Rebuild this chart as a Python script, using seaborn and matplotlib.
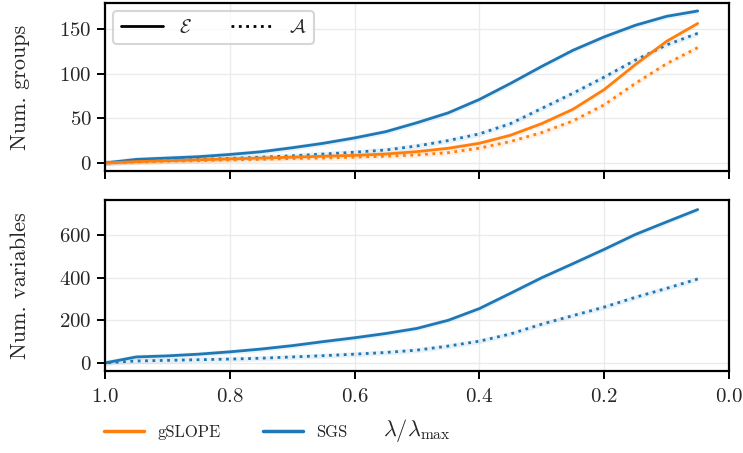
import numpy as np
import pandas as pd
import matplotlib
matplotlib.use("Agg")
import matplotlib.pyplot as plt
from matplotlib.lines import Line2D
import seaborn as sns

# lambda / lambda_max path
lambdas = [1.0, 0.95, 0.9, 0.85, 0.8, 0.75, 0.7, 0.65, 0.6, 0.55,
           0.5, 0.45, 0.4, 0.35, 0.3, 0.25, 0.2, 0.15, 0.1, 0.05]

# number of groups (E = estimated, A = active)
sgs_groups_E = [0, 4, 5.5, 7, 9.5, 12.5, 17, 22, 28, 35, 45, 56, 71, 89, 108, 126, 141, 154, 164, 170]
sgs_groups_A = [0, 2, 3, 4, 5, 6.5, 8, 10, 12, 14.5, 19, 25, 32.5, 44, 61, 78, 96, 115, 132, 145]
gslope_groups_E = [0, 1.5, 2.5, 3.5, 4.5, 5.5, 6.5, 7.5, 8.5, 10, 12.7, 16.4, 22, 31, 44, 60, 82, 110, 136, 156]
gslope_groups_A = [0, 1, 2, 2.5, 3.5, 4, 5, 5.5, 6.5, 7.5, 9, 11.5, 16.5, 24, 34, 47, 65, 89, 111, 129]

# number of variables
sgs_vars_E = [0, 28, 33, 41, 52, 65, 81, 100, 118, 138, 162, 200, 255, 327, 400, 466, 533, 603, 662, 720]
sgs_vars_A = [0, 9, 12, 15, 18, 22, 28, 34, 41, 49, 60, 79, 102, 136, 182, 222, 262, 308, 350, 394]

band_groups = 3
band_vars = 12

sns.set_style("whitegrid")
plt.rcParams['font.family'] = ['cmr10', 'DejaVu Serif']
plt.rcParams['mathtext.fontset'] = 'cm'
plt.rcParams['axes.formatter.use_mathtext'] = True

blue = '#1f77b4'
orange = '#ff7f0e'

fig = plt.figure(figsize=(7.43, 4.53), dpi=100)
ax1 = fig.add_axes([0.1413, 0.6225, 0.8397, 0.371])
ax2 = fig.add_axes([0.1413, 0.181, 0.8397, 0.3775], sharex=ax1)


def draw(ax, y, color, ls, band):
    df = pd.DataFrame({'lam': lambdas, 'val': y})
    sns.lineplot(data=df, x='lam', y='val', ax=ax, color=color,
                 linestyle=ls, linewidth=2, errorbar=None)
    ax.fill_between(df['lam'], df['val'] - band, df['val'] + band,
                    color=color, alpha=0.1, linewidth=0)


draw(ax1, sgs_groups_E, blue, '-', band_groups)
draw(ax1, sgs_groups_A, blue, ':', band_groups)
draw(ax1, gslope_groups_E, orange, '-', band_groups)
draw(ax1, gslope_groups_A, orange, ':', band_groups)

draw(ax2, sgs_vars_E, blue, '-', band_vars)
draw(ax2, sgs_vars_A, blue, ':', band_vars)

ax1.set_xlim(1.0, 0.0)
ax1.set_ylim(-9, 179)
ax2.set_ylim(-38, 765)
ax1.set_yticks([0, 50, 100, 150])
ax2.set_yticks([0, 200, 400, 600])
ax2.set_xticks([1.0, 0.8, 0.6, 0.4, 0.2, 0.0])

for ax in (ax1, ax2):
    ax.grid(True, color='#ebebeb', linewidth=1)
    for sp in ax.spines.values():
        sp.set_color('black')
        sp.set_linewidth(1.6)
    ax.tick_params(axis='both', which='major', direction='out', length=6,
                   width=1.4, color='black', labelsize=15, bottom=True, left=True)
    ax.tick_params(axis='x', pad=6)
    ax.set_xlabel('')

ax1.tick_params(labelbottom=False)
ax1.set_ylabel('Num. groups', fontsize=16)
ax2.set_ylabel('Num. variables', fontsize=16)
ax2.set_xlabel(r'$\lambda/\lambda_{\max}$', fontsize=16, labelpad=8)
ax1.yaxis.set_label_coords(-0.12, 0.5)
ax2.yaxis.set_label_coords(-0.12, 0.5)

style_handles = [Line2D([], [], color='black', linestyle='-', linewidth=2),
                 Line2D([], [], color='black', linestyle=':', linewidth=2)]
leg1 = ax1.legend(style_handles, [r'$\mathcal{E}$', r'$\mathcal{A}$'], loc='upper left',
                  ncol=2, fontsize=14, frameon=True, fancybox=True,
                  handlelength=2.2, columnspacing=2.0, borderaxespad=0.4)
leg1.get_frame().set_edgecolor('#cccccc')
leg1.get_frame().set_linewidth(1.5)

method_handles = [Line2D([], [], color=orange, linewidth=2.5),
                  Line2D([], [], color=blue, linewidth=2.5)]
fig.legend(method_handles, ['gSLOPE', 'SGS'], loc='lower left',
           bbox_to_anchor=(0.12, -0.005), ncol=2, frameon=False, fontsize=12,
           handlelength=2.4, columnspacing=2.5)

fig.savefig('out.png', dpi=100)
